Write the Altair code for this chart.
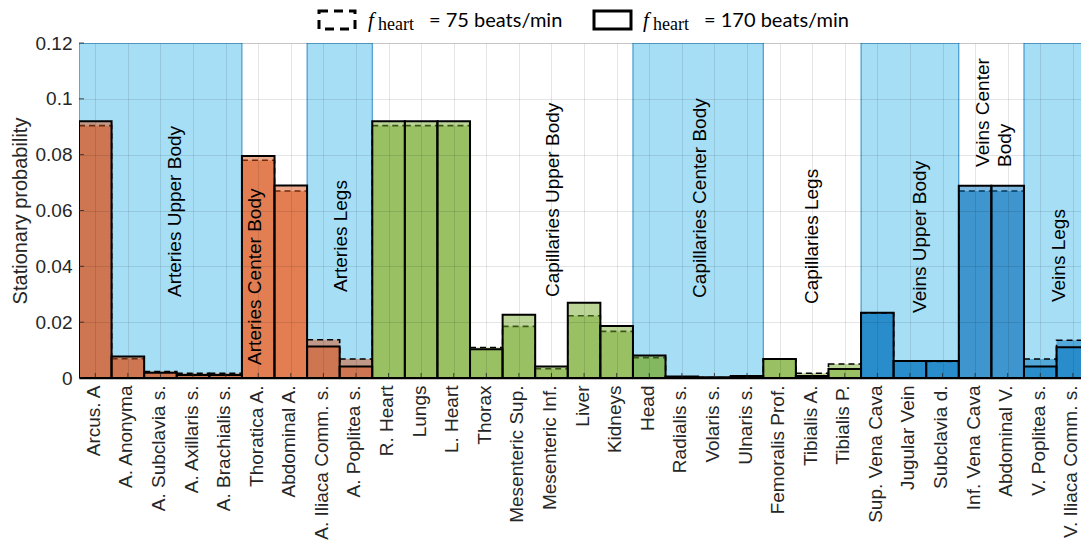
import json
import altair as alt
import pandas as pd

# ---------------- data ----------------
names = ["Arcus. A", "A. Anonyma", "A. Subclavia s.", "A. Axillaris s.", "A. Brachialis s.",
         "Thoratica A.", "Abdominal A.", "A. Iliaca Comm. s.", "A. Poplitea s.",
         "R. Heart", "Lungs", "L. Heart", "Thorax", "Mesenteric Sup.", "Mesenteric Inf.",
         "Liver", "Kidneys", "Head", "Radialis s.", "Volaris s.", "Ulnaris s.",
         "Femoralis Prof.", "Tibialis A.", "Tibialis P.",
         "Sup. Vena Cava", "Jugular Vein", "Subclavia d.", "Inf. Vena Cava", "Abdominal V.",
         "V. Poplitea s.", "V. Iliaca Comm. s."]
vessel_type = ["Arteries"] * 9 + ["Capillaries"] * 15 + ["Veins"] * 7

p170 = [0.0920, 0.0077, 0.0019, 0.0011, 0.0011, 0.0795, 0.0690, 0.0113, 0.0041,
        0.0920, 0.0920, 0.0920, 0.0103, 0.0227, 0.0041, 0.0270, 0.0186, 0.0081,
        0.0005, 0.0003, 0.0007, 0.0068, 0.0007, 0.0032,
        0.0234, 0.0061, 0.0061, 0.0689, 0.0689, 0.0041, 0.0110]
p75 = [0.0904, 0.0069, 0.0023, 0.0017, 0.0017, 0.0780, 0.0670, 0.0137, 0.0068,
       0.0904, 0.0904, 0.0904, 0.0109, 0.0185, 0.0033, 0.0223, 0.0167, 0.0073,
       0.0003, 0.0002, 0.0005, 0.0068, 0.0017, 0.0050,
       0.0232, 0.0060, 0.0059, 0.0670, 0.0670, 0.0068, 0.0135]

groups = ["Arteries Upper Body", "Arteries Center Body", "Arteries Legs",
          "Capillaries Upper Body", "Capillaries Center Body", "Capillaries Legs",
          "Veins Upper Body", "Veins Center\nBody", "Veins Legs"]
group_start = [0, 5, 7, 9, 17, 21, 24, 27, 29]
group_end = [5, 7, 9, 17, 21, 24, 27, 29, 31]
group_shaded = [True, False, True, False, True, False, True, False, True]
group_label_x = [2.94, 5.40, 8.04, 14.54, 19.05, 22.48, 25.80, 27.73, 30.09]
group_label_y = [0.0290, 0.0047, 0.0308, 0.0290, 0.0287, 0.0265, 0.0233, 0.0756, 0.0272]

y_ticks = [0, 0.02, 0.04, 0.06, 0.08, 0.1, 0.12]
type_names = ["Arteries", "Capillaries", "Veins"]
type_colors = ["#D95319", "#77AC30", "#0072BD"]

# ---------------- tables ----------------
bars = pd.DataFrame({
    "name": names,
    "type": vessel_type,
    "x0": list(range(len(names))),
    "x1": [i + 1 for i in range(len(names))],
    "xc": [i + 0.5 for i in range(len(names))],
    "p170": p170,
    "p75": p75,
})
grp = pd.DataFrame({
    "group": groups, "start": group_start, "end": group_end,
    "shaded": group_shaded, "lx": group_label_x, "ly": group_label_y,
})
shaded_grp = grp[grp["shaded"]]
yt = pd.DataFrame({"v": y_ticks})

W, H = 1002, 335
FONT = "Liberation Sans"
TXT = "#262626"

label_expr = json.dumps(names) + "[floor(datum.value)]"

xscale = alt.Scale(domain=[0, 30.75], nice=False, zero=False)
yscale = alt.Scale(domain=[0, 0.12], nice=False)

xaxis = alt.Axis(values=[i + 0.5 for i in range(len(names))], labelExpr=label_expr,
                 labelAngle=270, labelAlign="right", labelBaseline="middle",
                 labelPadding=7, labelOffset=-2, labelOverlap=False, labelFlush=False,
                 labelBound=False,
                 labelFont=FONT, labelFontSize=19, labelColor=TXT,
                 ticks=False, grid=True, gridColor="#000000", gridOpacity=0.1,
                 domain=True, domainColor="#000000", domainWidth=1.5, title=None, zindex=1)
yaxis = alt.Axis(values=y_ticks, labelExpr="format(datum.value, '.2~f')",
                 labelFont=FONT, labelFontSize=19,
                 labelColor=TXT, labelPadding=7, ticks=False, domain=False,
                 grid=True, gridColor="#000000", gridOpacity=0.1,
                 title="Stationary probability", titleFont=FONT, titleFontSize=20,
                 titleFontWeight="normal", titleColor=TXT, titlePadding=5, zindex=1)

color = alt.Color("type:N", scale=alt.Scale(domain=type_names, range=type_colors), legend=None)

background = alt.Chart(shaded_grp).mark_rect(
    fill="#4DBEEE", fillOpacity=0.5, stroke="#0072BD", strokeWidth=1, strokeOpacity=0.8, clip=True
).encode(
    x=alt.X("start:Q", scale=xscale, axis=xaxis),
    x2="end:Q",
    y=alt.Y("ymin:Q", scale=yscale, axis=yaxis),
    y2="ymax:Q",
).transform_calculate(ymin="0", ymax="0.12")

bars75 = alt.Chart(bars).mark_rect(
    fillOpacity=0.5, stroke="#000000", strokeWidth=1.6, strokeDash=[6, 4], clip=True
).encode(
    x=alt.X("x0:Q", scale=xscale, axis=xaxis), x2="x1:Q",
    y=alt.Y("p75:Q", scale=yscale, axis=yaxis), y2=alt.datum(0),
    color=color,
)

bars170 = alt.Chart(bars).mark_rect(
    fillOpacity=0.5, stroke="#000000", strokeWidth=2, clip=True
).encode(
    x=alt.X("x0:Q", scale=xscale, axis=xaxis), x2="x1:Q",
    y=alt.Y("p170:Q", scale=yscale, axis=yaxis), y2=alt.datum(0),
    color=color,
)

labels = alt.Chart(grp).mark_text(
    angle=270, align="left", baseline="middle", font=FONT, fontSize=19,
    color="#000000", lineBreak="\n", lineHeight=22
).encode(
    x=alt.X("lx:Q", scale=xscale, axis=xaxis),
    y=alt.Y("ly:Q", scale=yscale, axis=yaxis),
    text="group:N",
)

bottom_ticks = alt.Chart(bars).mark_rule(color="#262626", strokeWidth=1, opacity=0.8).encode(
    x=alt.X("xc:Q", scale=xscale, axis=xaxis), y=alt.value(H), y2=alt.value(H - 5)
)
left_ticks = alt.Chart(yt).mark_rule(color="#262626", strokeWidth=1, opacity=0.8).encode(
    y=alt.Y("v:Q", scale=yscale, axis=yaxis), x=alt.value(0), x2=alt.value(5)
)

one = pd.DataFrame({"k": [0]})
leg_dash = alt.Chart(one).mark_rect(fillOpacity=0, stroke="#000000", strokeWidth=3,
                                    strokeDash=[9, 6]).encode(
    x=alt.value(240), x2=alt.value(276), y=alt.value(-32), y2=alt.value(-14))
leg_solid = alt.Chart(one).mark_rect(fillOpacity=0, stroke="#000000", strokeWidth=3).encode(
    x=alt.value(515), x2=alt.value(552), y=alt.value(-32), y2=alt.value(-14))


def leg_text(txt, xpos, ypos, font, size, italic=False):
    kw = dict(align="left", baseline="alphabetic", font=font, fontSize=size, color="#000000")
    if italic:
        kw["fontStyle"] = "italic"
    return alt.Chart(one).mark_text(**kw).encode(
        x=alt.value(xpos), y=alt.value(ypos), text=alt.value(txt))


legend = alt.layer(
    leg_dash, leg_solid,
    leg_text("f", 289, -16, "Liberation Serif", 21, italic=True),
    leg_text("heart", 299, -13, "Liberation Serif", 18),
    leg_text("= 75 beats/min", 350, -16, "Lato", 20),
    leg_text("f", 564, -16, "Liberation Serif", 21, italic=True),
    leg_text("heart", 574, -13, "Liberation Serif", 18),
    leg_text("= 170 beats/min", 625, -16, "Lato", 20),
)

chart = alt.layer(
    background, bars75, bars170, labels, bottom_ticks, left_ticks, legend
).properties(
    width=W, height=H,
    autosize=alt.AutoSizeParams(type="none"),
    padding={"left": 71, "top": 35, "right": 0, "bottom": 165},
).configure_view(stroke=None).configure(background="white").configure_axis(labelOverlap=False)

chart.save("out.html", embed_options={"renderer": "svg", "actions": False})
